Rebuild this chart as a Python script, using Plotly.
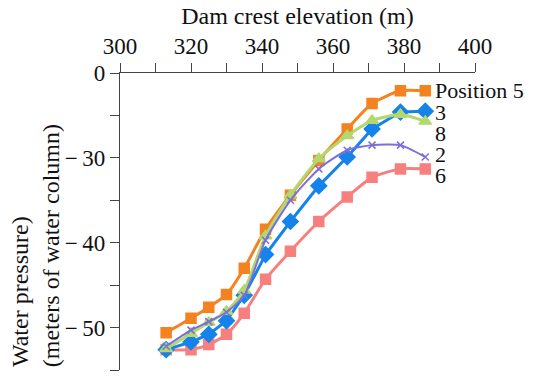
import plotly.graph_objects as go

elev = [313, 320, 325, 330, 335, 341, 348, 356, 364, 371, 379, 386]
pos5 = [-50.6, -48.9, -47.6, -46.1, -43.0, -38.4, -34.4, -30.3, -26.6, -23.6, -22.1, -22.1]
pos3 = [-52.6, -51.7, -50.8, -49.2, -46.2, -41.4, -37.5, -33.3, -29.9, -26.6, -24.6, -24.5]
pos8 = [-52.5, -50.7, -49.4, -48.1, -45.6, -39.2, -34.4, -30.1, -27.4, -25.6, -24.9, -25.7]
pos2 = [-52.2, -50.3, -49.3, -48.2, -46.2, -39.7, -35.0, -31.3, -29.1, -28.5, -28.5, -29.9]
pos6 = [-52.6, -52.6, -52.0, -50.8, -48.3, -44.3, -41.0, -37.5, -34.6, -32.3, -31.3, -31.3]

labels = ["Position 5", "3", "8", "2", "6"]
label_y = [-22.1, -24.6, -27.1, -29.6, -32.1]

y_tickvals = [-20, -30, -40, -50]
y_ticktext = ["0", "\u2212\u200930", "\u2212\u200940", "\u2212\u200950"]

x_title = "Dam crest elevation (m)"
y_title_lines = ["Water pressure)", "(meters of water column)"]

FONT = "Liberation Serif"
TXT = "#111"

fig = go.Figure()

series = [
    ("6", pos6, "#F7807E", "square", 10, "spline"),
    ("5", pos5, "#F58220", "square", 10, "spline"),
    ("3", pos3, "#1583EA", "diamond", 12, "linear"),
    ("8", pos8, "#B2D86E", "triangle-up", 11, "spline"),
    ("2", pos2, "#7B6FD9", "x-thin", 7, "spline"),
]
for name, ys, col, sym, size, shape in series:
    fig.add_trace(go.Scatter(
        x=elev, y=ys, mode="lines+markers", name=name,
        line=dict(color=col, width=3 if name != "2" else 2, shape=shape, smoothing=0.6),
        marker=dict(symbol=sym, size=size, color=col,
                    line=dict(color=col, width=1.5)),
        showlegend=False,
    ))

for t, yv in zip(labels, label_y):
    fig.add_annotation(x=388.3, y=yv, xref="x", yref="y", text=t,
                       showarrow=False, xanchor="left", yanchor="middle",
                       font=dict(family=FONT, size=22, color=TXT))

# y-axis title: two rotated lines, both starting at the bottom of the plot
for t, xp in zip(y_title_lines, [-0.283, -0.195]):
    fig.add_annotation(x=xp, y=0, xref="paper", yref="paper", text=t,
                       textangle=-90, showarrow=False,
                       xanchor="center", yanchor="bottom", yshift=1,
                       font=dict(family=FONT, size=24, color=TXT))

fig.update_xaxes(
    range=[300, 400], side="top", dtick=20, tick0=300,
    showline=True, linecolor="#444", linewidth=1.3,
    ticks="outside", ticklen=9, tickcolor="#444", tickwidth=1.3,
    minor=dict(dtick=10, ticks="outside", ticklen=9, tickcolor="#444", tickwidth=1.3),
    showgrid=False, zeroline=False,
    tickfont=dict(family=FONT, size=23, color=TXT),
    title=dict(text=x_title, font=dict(family=FONT, size=24, color=TXT), standoff=2),
)
fig.update_yaxes(
    range=[-55, -20], tickmode="array", tickvals=y_tickvals, ticktext=y_ticktext,
    showline=True, linecolor="#444", linewidth=1.3,
    ticks="outside", ticklen=9, tickcolor="#444", tickwidth=1.3,
    minor=dict(tickmode="array", tickvals=[-25, -35, -45, -55], ticks="outside",
               ticklen=9, tickcolor="#444", tickwidth=1.3),
    showgrid=False, zeroline=False,
    tickfont=dict(family=FONT, size=23, color=TXT),
)

fig.update_layout(
    width=548, height=377,
    margin=dict(l=120, r=73, t=73, b=7),
    paper_bgcolor="white", plot_bgcolor="white",
)

fig.write_html("out.html")
